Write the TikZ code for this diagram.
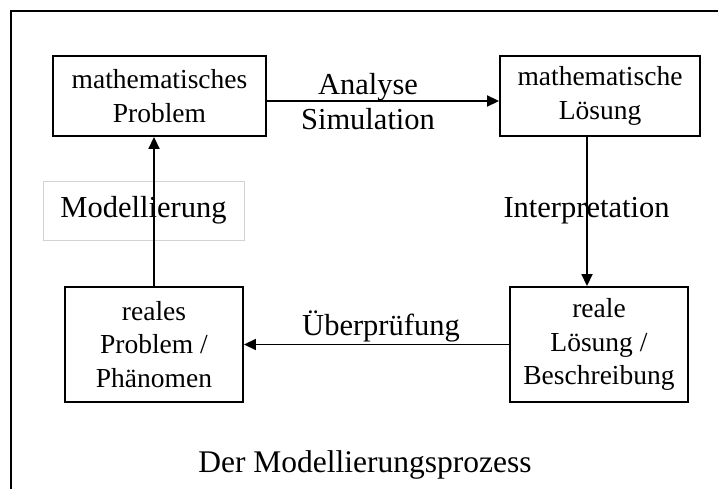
\documentclass[tikz,border=0pt]{standalone}
\usepackage{fontspec}
\setmainfont{Liberation Serif}
\usetikzlibrary{arrows.meta}

\begin{document}
\begin{tikzpicture}[
    x=1pt, y=-1pt,
    box/.style={draw, line width=1.9pt, align=center, inner sep=0pt, font=\fontsize{27.5}{33.5}\selectfont},
    lbl/.style={align=center, inner sep=0pt, font=\fontsize{30.5}{35}\selectfont},
    conn/.style={line width=1.8pt, -{Triangle[length=12pt, width=11pt]}},
]
    \useasboundingbox (0,0) rectangle (718,489);

    % Frame (open to the right and bottom)
    \draw[line width=1.9pt] (718,11) -- (11,11) -- (11,489);

    % Boxes
    \node[box, minimum width=213pt, minimum height=80pt] (mprob) at (159.5, 96) {mathematisches\\Problem};
    \node[box, minimum width=200pt, minimum height=80pt] (mloes) at (600, 96) {mathematische\\Lösung};
    \node[box, minimum width=178pt, minimum height=115pt] (rprob) at (154, 344.5) {reales\\Problem /\\Phänomen};
    \node[box, minimum width=178pt, minimum height=115pt] (rloes) at (599, 344.5) {reale\\Lösung /\\Beschreibung};

    % Labels
    \node[lbl, draw=gray!35, line width=0.6pt, minimum width=201pt, minimum height=59pt] (modl) at (143.5, 210.5) {Modellierung};
    \node[lbl] (anal) at (368, 102) {Analyse\\Simulation};
    \node[lbl, anchor=base] (interp) at (586.5, 218) {Interpretation};
    \node[lbl, anchor=base] (pruef) at (381, 335) {Überprüfung};
    \node[lbl, anchor=base, font=\fontsize{31.5}{36}\selectfont] (title) at (365, 472) {Der Modellierungsprozess};

    % Arrows
    \draw[conn] ([yshift=-5pt]mprob.east) -- ([yshift=-5pt]mloes.west);
    \draw[conn] ([xshift=-13pt]mloes.south) -- ([xshift=-12pt]rloes.north);
    \draw[conn] (rloes.west) -- (rprob.east);
    \draw[conn] (rprob.north) -- (rprob.north |- mprob.south);
\end{tikzpicture}
\end{document}
